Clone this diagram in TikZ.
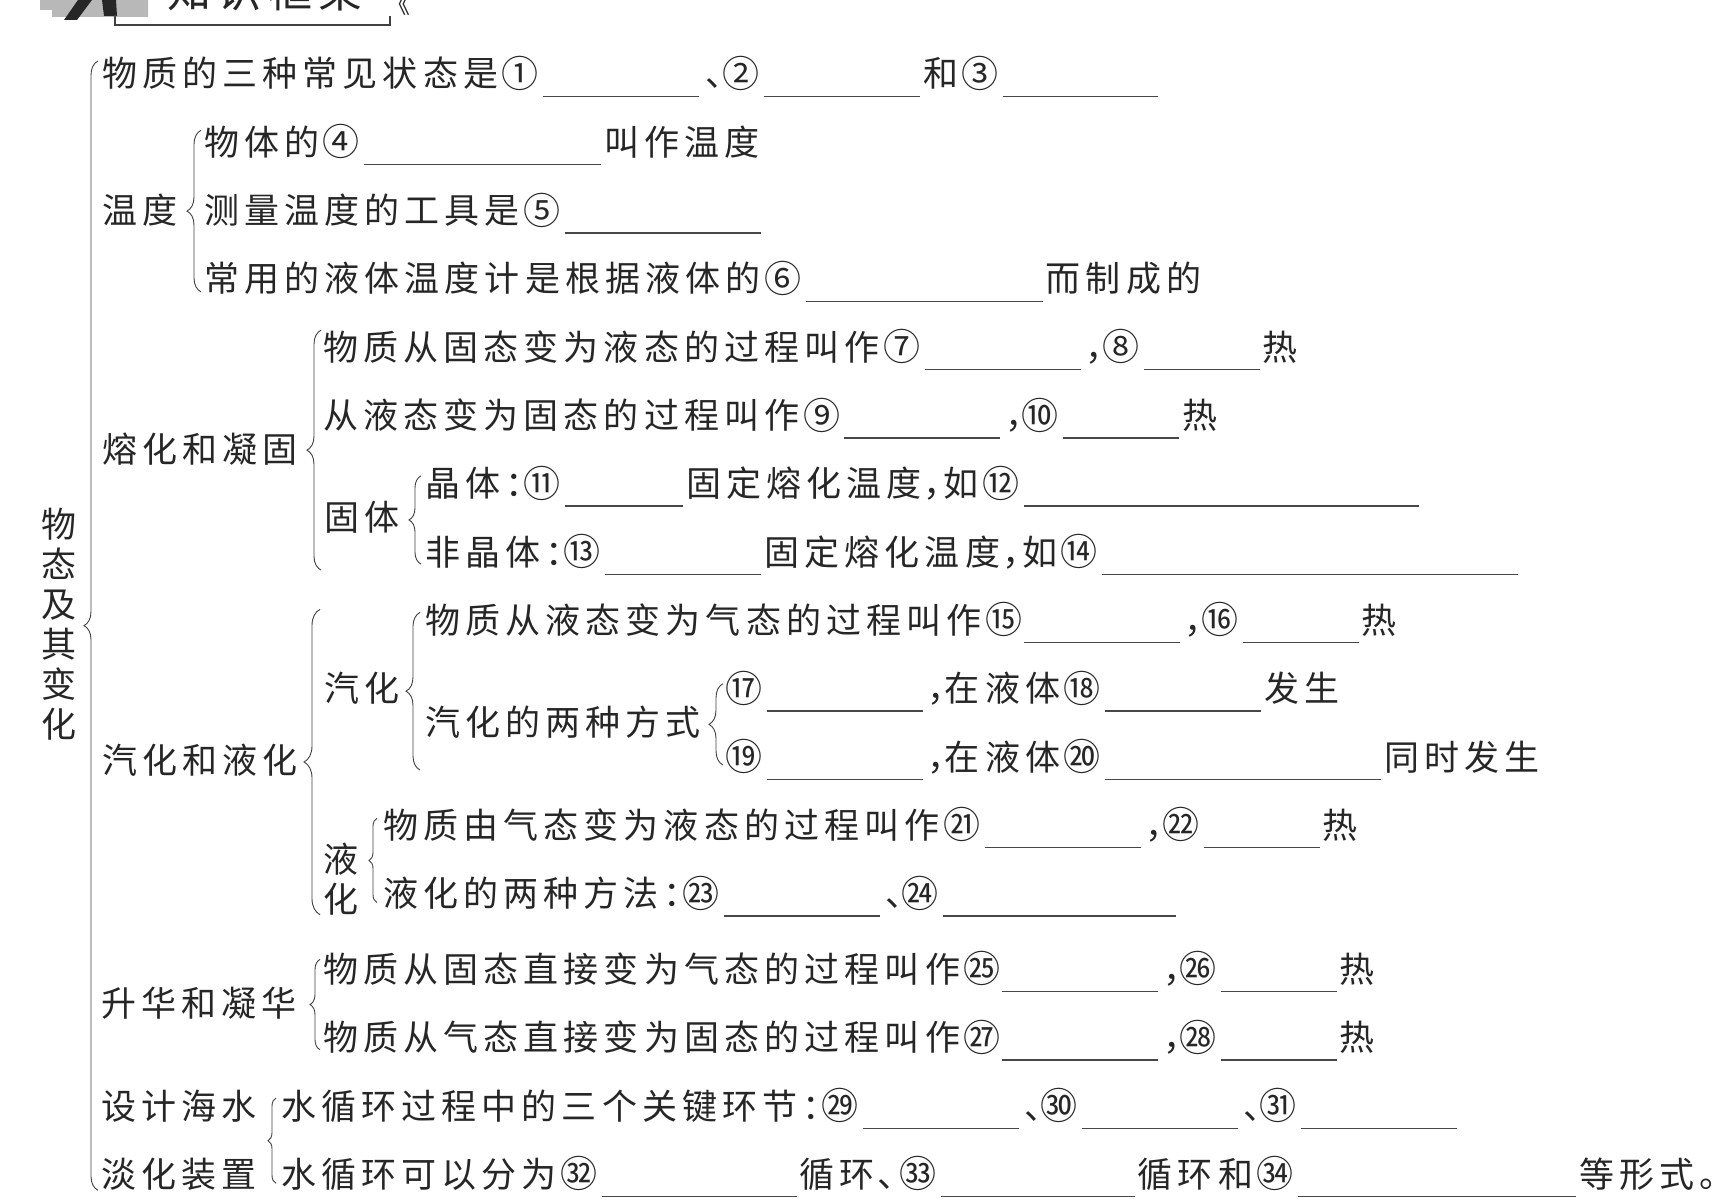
\documentclass[tikz,border=0pt]{standalone}
\usepackage{fontspec}
\usetikzlibrary{positioning,calc,decorations.pathreplacing}
\newfontfamily\zhfont[LetterSpace=14.7]{Noto Sans CJK SC}
\newcommand{\fillin}[1]{\kern5pt{\color{black!72}\rule[-10pt]{#1pt}{1.4pt}}\kern3pt}
\newcommand{\dou}{\kern2pt，\kern-22pt}
\newcommand{\dun}{\kern3pt、\kern-23pt}
\newcommand{\mao}{：\kern-20pt}
\newcommand{\q}[1]{\makebox[39.9pt][l]{\kern3.5pt\raisebox{-0.5pt}{\fontsize{37}{40}\selectfont #1}}}
\tikzset{
	rowtxt/.style={inner sep=0pt, outer sep=0pt, text height=31pt, text depth=5pt, text=black!85,
		font=\zhfont\fontsize{35}{40}\selectfont},
	stacktxt/.style={inner sep=0pt, outer sep=0pt, align=center, text=black!85,
		font=\zhfont\fontsize{35}{40}\selectfont},
	bracearr/.style={decorate, decoration={brace, amplitude=#1}, draw=black!75, line width=0.9pt},
	bracearr/.default=14pt
}
\begin{document}
\begin{tikzpicture}[x=1pt, y=1pt, node distance=32.3pt and 0pt]
	\clip (0,0) rectangle (1727,-1204);
	% clipped heading strip
	\fill[black!28] (40,0) -- (148,0) -- (148,-17) -- (52,-17) -- (52,-10) -- (40,-10) -- cycle;
	\fill[black!85] (78,0) -- (92,0) -- (77,-20) -- (64,-20) -- cycle;
	\fill[black!85] (102,0) -- (116,0) -- (117,-16) -- (104,-16) -- cycle;
	\node[inner sep=0pt, text=black!85, font=\zhfont\fontsize{44}{44}\selectfont] (head) at (265,9) {知识框架};
	\node[inner sep=0pt, text=black!85, font=\zhfont\fontsize{24}{24}\selectfont] (headmark) at (398,-4) {《};
	\draw[black!75, line width=1.2pt] (115,-15) |- (390,-25) -- (390,-16);

	\node[rowtxt, anchor=north west] (r1) at (102,-56) {物质的三种常见状态是\q{①}\fillin{156}\dun\kern2pt\q{②}\fillin{156}和\q{③}\fillin{155}};
	\node[rowtxt, below right=32.3pt and 102pt of r1.south west] (r2) {物体的\q{④}\fillin{237}叫作温度};
	\node[rowtxt, below right=of r2.south west] (r3) {测量温度的工具是\q{⑤}\fillin{196}};
	\node[rowtxt, below right=of r3.south west] (r4) {常用的液体温度计是根据液体的\q{⑥}\fillin{237}而制成的};
	\node[rowtxt, below right=32.3pt and 119pt of r4.south west] (r5) {物质从固态变为液态的过程叫作\q{⑦}\fillin{156}\dou\q{⑧}\fillin{116}热};
	\node[rowtxt, below right=of r5.south west] (r6) {从液态变为固态的过程叫作\q{⑨}\fillin{156}\dou\q{⑩}\fillin{116}热};
	\node[rowtxt, below right=32.3pt and 102pt of r6.south west] (r7) {晶体\mao\q{⑪}\fillin{118}固定熔化温度\dou\kern7pt 如\q{⑫}\fillin{395}};
	\node[rowtxt, below right=of r7.south west] (r8) {非晶体\mao\q{⑬}\fillin{156}固定熔化温度\dou\kern7pt 如\q{⑭}\fillin{416}};
	\node[rowtxt, below right=of r8.south west] (r9) {物质从液态变为气态的过程叫作\q{⑮}\kern-3pt\fillin{156}\dou\q{⑯}\fillin{116}热};
	\node[rowtxt, below right=32.3pt and 297pt of r9.south west] (r10) {\q{⑰}\fillin{156}\dou\kern4pt 在液体\q{⑱}\fillin{156}发生};
	\node[rowtxt, below right=of r10.south west] (r11) {\q{⑲}\fillin{156}\dou\kern4pt 在液体\q{⑳}\fillin{276}同时发生};
	\node[rowtxt, below right=32.3pt and -339pt of r11.south west] (r12) {物质由气态变为液态的过程叫作\q{㉑}\fillin{156}\dou\q{㉒}\fillin{116}热};
	\node[rowtxt, below right=of r12.south west] (r13) {液化的两种方法\mao\q{㉓}\fillin{156}\dun\q{㉔}\fillin{233}};
	\node[rowtxt, below right=39.8pt and -60pt of r13.south west] (r14) {物质从固态直接变为气态的过程叫作\q{㉕}\kern-3pt\fillin{156}\dou\q{㉖}\fillin{116}热};
	\node[rowtxt, below right=of r14.south west] (r15) {物质从气态直接变为固态的过程叫作\q{㉗}\kern-3pt\fillin{156}\dou\q{㉘}\fillin{116}热};
	\node[rowtxt, below right=32.3pt and -42pt of r15.south west] (r16) {水循环过程中的三个关键环节\mao\q{㉙}\fillin{156}\dun\q{㉚}\fillin{156}\dun\q{㉛}\fillin{156}};
	\node[rowtxt, below right=of r16.south west] (r17) {水循环可以分为\q{㉜}\fillin{195}循环\dun\kern6pt\q{㉝}\fillin{194}循环和\q{㉞}\fillin{278}等形式。\kern-14pt};

	\node[rowtxt, left=26pt of r3.west] (wendu) {温度};
	\node[rowtxt, left=25pt of $(r5.west)!.5!(r5.west |- r8.west)$] (ronghua) {熔化和凝固};
	\node[rowtxt, left=25pt of $(r7.west)!.5!(r8.west)$] (guti) {固体};
	\node[rowtxt, left=25pt of $(r9.west)!.5!(r9.west |- r11.west)$] (qihua) {汽化};
	\node[rowtxt, left=21pt of $(r10.west)!.5!(r11.west)$] (fangshi) {汽化的两种方式};
	\node[rowtxt, left=25pt of $(r5.west |- r9.west)!.5!(r5.west |- r13.west)$, yshift=-3pt] (qiye) {汽化和液化};
	\node[stacktxt, left=25pt of r12.west, yshift=-54pt] (yehua) {液\\化};
	\node[rowtxt, left=26pt of $(r14.west)!.5!(r15.west)$] (shenghua) {升华和凝华};
	\node[rowtxt, left=24pt of r16.west] (sheji) {设计海水};
	\node[rowtxt, left=24pt of r17.west] (danhua) {淡化装置};
	\node[stacktxt, left=26pt of $(r1.west)!.5!(r1.west |- r17.west)$] (root) {物\\态\\及\\其\\变\\化};

	\draw[bracearr] ($(r1.west |- r17.west)+(-4,-16)$) -- ([shift={(-4,13)}]r1.west);
	\draw[bracearr] ([shift={(-3,-13)}]r4.west) -- ([shift={(-3,12)}]r2.west);
	\draw[bracearr] ($(r5.west |- r8.west)+(-2,-18)$) -- ([shift={(-2,17)}]r5.west);
	\draw[bracearr=12pt] ([shift={(-4,-12)}]r8.west) -- ([shift={(-4,8)}]r7.west);
	\draw[bracearr=16pt] ($(r5.west |- r13.west)+(-3,-21)$) -- ($(r5.west |- r9.west)+(-3,11)$);
	\draw[bracearr] ($(r9.west |- r11.west)+(-5,-13)$) -- ([shift={(-5,8)}]r9.west);
	\draw[bracearr] ([shift={(1,-8)}]r11.west) -- ([shift={(1,5)}]r10.west);
	\draw[bracearr=8pt] ([shift={(-6,-9)}]r13.west) -- ([shift={(-6,7)}]r12.west);
	\draw[bracearr=10pt] ([shift={(-3,-12)}]r15.west) -- ([shift={(-3,10)}]r14.west);
	\draw[bracearr=8pt] ([shift={(-5,-9)}]r17.west) -- ([shift={(-5,8)}]r16.west);
\end{tikzpicture}
\end{document}
